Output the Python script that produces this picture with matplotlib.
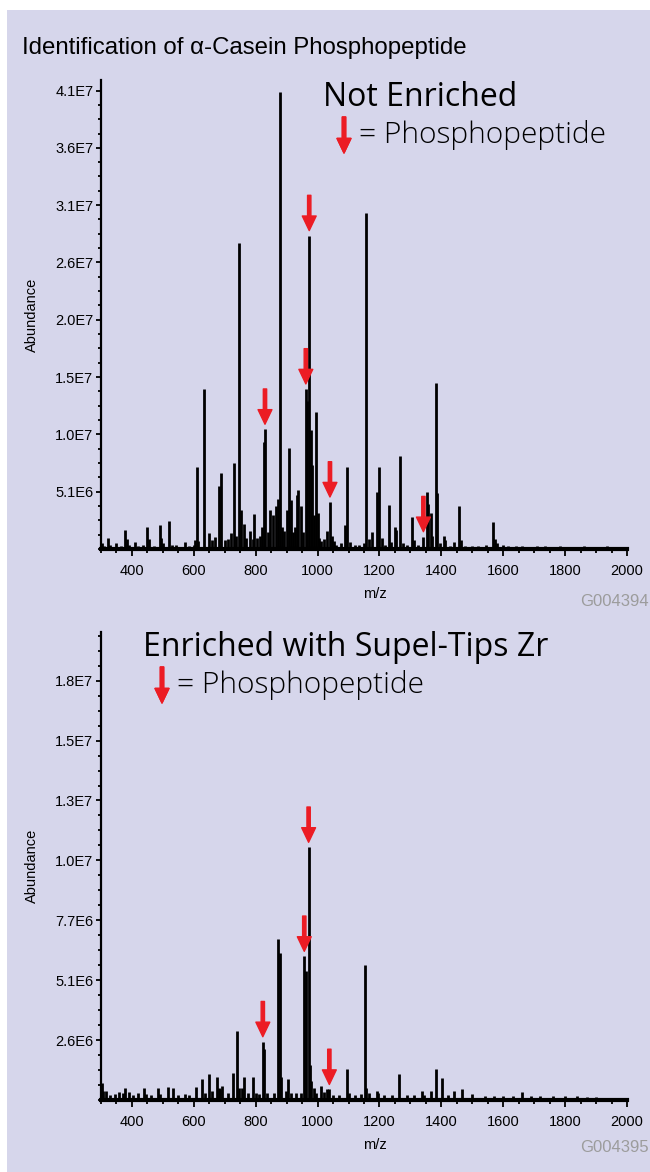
import numpy as np
import matplotlib
matplotlib.use('Agg')
import matplotlib.pyplot as plt
from matplotlib.patches import Rectangle
from matplotlib.ticker import MultipleLocator, FixedLocator, FuncFormatter

# ---- data ----
TITLE = "Identification of \u03b1-Casein Phosphopeptide"

# not enriched spectrum: m/z and abundance of the sticks
top_mz = [302, 310, 324, 330, 350, 365, 377, 384, 392, 410, 420, 436, 450, 455, 470, 490, 494, 500,
          521, 530, 543, 571, 585, 600, 605, 609, 615, 633, 649, 660, 670, 681, 687, 700, 710, 720,
          731, 735, 746, 751, 762, 770, 782, 790, 796, 805, 813, 820, 826, 830, 840, 847, 856, 865,
          873, 878, 885, 893, 900, 909, 914, 920, 926, 932, 937, 946, 952, 962, 967, 973, 978, 983,
          988, 994, 1000, 1006, 1012, 1020, 1029, 1040, 1045, 1052, 1060, 1075, 1089, 1096, 1105,
          1120, 1135, 1150, 1158, 1165, 1177, 1192, 1197, 1207, 1218, 1230, 1236, 1249, 1255, 1266,
          1275, 1290, 1305, 1310, 1325, 1342, 1352, 1358, 1365, 1370, 1383, 1387, 1395, 1408, 1413,
          1428, 1441, 1457, 1462, 1475, 1500, 1520, 1544, 1567, 1572, 1580, 1600, 1617, 1640, 1660,
          1685, 1710, 1735, 1760, 1785, 1810, 1835, 1860, 1885, 1910, 1935, 1960, 1985]
top_int = [0.5e6, 0.3e6, 1.0e6, 0.4e6, 0.5e6, 0.3e6, 1.7e6, 0.9e6, 0.4e6, 0.6e6, 0.3e6, 0.4e6, 2.0e6,
           0.9e6, 0.3e6, 2.1e6, 1.0e6, 0.5e6, 2.5e6, 0.4e6, 0.4e6, 0.6e6, 0.3e6, 0.4e6, 0.8e6, 7.3e6,
           0.7e6, 1.43e7, 1.46e6, 0.8e6, 1.1e6, 5.6e6, 6.8e6, 0.8e6, 0.9e6, 1.4e6, 7.65e6, 1.2e6,
           2.73e7, 3.5e6, 2.2e6, 1.0e6, 1.6e6, 0.9e6, 3.1e6, 1.0e6, 1.2e6, 2.0e6, 9.55e6, 1.07e7,
           1.5e6, 3.5e6, 3.0e6, 3.8e6, 4.5e6, 4.08e7, 2.0e6, 1.6e6, 3.5e6, 9.0e6, 4.4e6, 1.5e6, 2.0e6,
           4.8e6, 5.3e6, 3.8e6, 1.5e6, 1.43e7, 1.32e7, 2.8e7, 1.06e7, 7.5e6, 3.0e6, 1.22e7, 3.2e6,
           1.0e6, 0.7e6, 0.9e6, 1.6e6, 4.2e6, 1.2e6, 0.7e6, 0.4e6, 0.5e6, 2.1e6, 7.3e6, 0.6e6, 0.4e6,
           0.4e6, 0.5e6, 3.0e7, 0.9e6, 1.5e6, 5.1e6, 7.3e6, 1.0e6, 0.4e6, 3.9e6, 0.6e6, 2.0e6, 1.7e6,
           8.3e6, 0.5e6, 0.4e6, 2.9e6, 0.8e6, 0.4e6, 1.1e6, 5.1e6, 4.0e6, 3.2e6, 1.2e6, 1.48e7, 5.0e6,
           0.5e6, 1.2e6, 0.8e6, 0.3e6, 0.6e6, 3.8e6, 0.8e6, 0.3e6, 0.3e6, 0.3e6, 0.4e6, 2.4e6, 0.9e6,
           0.5e6, 0.4e6, 0.3e6, 0.25e6, 0.25e6, 0.2e6, 0.25e6, 0.3e6, 0.2e6, 0.25e6, 0.2e6, 0.2e6,
           0.25e6, 0.2e6, 0.2e6, 0.25e6, 0.2e6, 0.2e6]
top_arrows = [830, 962, 973, 1040, 1342]

# enriched with Supel-Tips Zr
bot_mz = [302, 306, 316, 330, 345, 359, 370, 378, 391, 405, 420, 439, 445, 460, 484, 490, 515, 532,
          550, 570, 585, 607, 626, 635, 649, 660, 674, 680, 686, 691, 710, 727, 741, 746, 755, 762,
          775, 790, 800, 810, 823, 826, 837, 860, 873, 878, 883, 897, 905, 915, 930, 948, 957, 963,
          971, 975, 980, 987, 995, 1011, 1020, 1030, 1038, 1050, 1070, 1094, 1100, 1120, 1140, 1153,
          1158, 1165, 1191, 1195, 1215, 1240, 1264, 1290, 1310, 1336, 1345, 1365, 1382, 1402, 1420,
          1440, 1467, 1500, 1540, 1570, 1600, 1630, 1660, 1690, 1720, 1760, 1800, 1840, 1870, 1900,
          1950, 1990]
bot_int = [0.72e6, 0.4e6, 0.4e6, 0.2e6, 0.25e6, 0.35e6, 0.3e6, 0.5e6, 0.35e6, 0.2e6, 0.3e6, 0.5e6,
           0.25e6, 0.2e6, 0.5e6, 0.25e6, 0.55e6, 0.5e6, 0.2e6, 0.25e6, 0.2e6, 0.55e6, 0.9e6, 0.3e6,
           1.1e6, 0.4e6, 1.0e6, 0.5e6, 0.45e6, 0.6e6, 0.3e6, 1.15e6, 2.94e6, 0.5e6, 0.5e6, 1.0e6,
           0.3e6, 1.0e6, 0.3e6, 0.25e6, 2.49e6, 2.2e6, 0.3e6, 0.3e6, 6.9e6, 6.3e6, 1.0e6, 0.4e6,
           0.9e6, 0.3e6, 0.3e6, 0.3e6, 6.14e6, 5.5e6, 1.08e7, 1.5e6, 0.8e6, 0.5e6, 0.3e6, 0.6e6,
           0.35e6, 0.45e6, 0.45e6, 0.2e6, 0.2e6, 1.32e6, 0.3e6, 0.2e6, 0.25e6, 5.76e6, 0.5e6, 0.3e6,
           0.4e6, 0.3e6, 0.2e6, 0.2e6, 1.1e6, 0.2e6, 0.2e6, 0.4e6, 0.2e6, 0.4e6, 1.32e6, 0.92e6,
           0.2e6, 0.4e6, 0.45e6, 0.25e6, 0.15e6, 0.15e6, 0.15e6, 0.15e6, 0.33e6, 0.15e6, 0.15e6,
           0.15e6, 0.15e6, 0.15e6, 0.12e6, 0.12e6, 0.1e6, 0.1e6]
bot_arrows = [823, 957, 971, 1038]

top_step = 5.12e6   # 5.1E6, 1.0E7, 1.5E7 ...
bot_step = 2.56e6   # 2.6E6, 5.1E6, 7.7E6 ...

BG = '#D6D6EB'
RED = '#EC1C24'
plt.rcParams['font.family'] = ['Liberation Sans', 'DejaVu Sans']

fig = plt.figure(figsize=(6.5, 11.72), dpi=100)
fig.patch.set_facecolor('white')
fig.add_artist(Rectangle((7 / 650, 0), 1, 1 - 10 / 1172, transform=fig.transFigure,
                         facecolor=BG, edgecolor='none', zorder=-10))

ARROW = 'simple,head_length=1.05,head_width=1.0,tail_width=0.24'


def efmt(v, pos):
    m, e = ("%.1E" % v).split('E')
    return "%sE%d" % (m, int(e))


def draw_panel(ax, mz, inten, arrows, step, ymax):
    ax.set_facecolor('none')
    ax.vlines(mz, 0, inten, colors='black', linewidth=2.0)
    ax.set_xlim(300, 2000)
    ax.set_ylim(0, ymax)
    for s in ['top', 'right']:
        ax.spines[s].set_visible(False)
    ax.spines['left'].set_linewidth(1.6)
    ax.spines['bottom'].set_linewidth(3.0)
    ax.xaxis.set_major_locator(FixedLocator(np.arange(400, 2001, 200)))
    ax.xaxis.set_minor_locator(MultipleLocator(50))
    ax.yaxis.set_major_locator(FixedLocator(np.arange(1, 9) * step))
    ax.yaxis.set_minor_locator(MultipleLocator(step / 4))
    ax.yaxis.set_major_formatter(FuncFormatter(efmt))
    ax.tick_params(axis='x', which='major', length=5, width=1.3, labelsize=10.5, pad=6)
    ax.tick_params(axis='x', which='minor', length=3, width=1.3)
    ax.tick_params(axis='y', which='major', length=3.5, width=1.3, labelsize=10.5, pad=2)
    ax.tick_params(axis='y', which='minor', length=2.2, width=1.3)
    ax.set_xlabel('m/z', fontsize=10.5)
    ax.xaxis.set_label_coords(0.52, -0.082)
    ax.set_ylabel('Abundance', fontsize=10.5)
    ax.yaxis.set_label_coords(-0.118, 0.5)
    lookup = dict(zip(mz, inten))
    for a in arrows:
        ax.annotate('', xy=(a, lookup[a]), xytext=(0, 29), textcoords='offset points',
                    arrowprops=dict(arrowstyle=ARROW, mutation_scale=10, color=RED,
                                    shrinkA=0, shrinkB=3.6))


ax1 = fig.add_axes([101 / 650, 1 - 549 / 1172, 526 / 650, 469 / 1172])
draw_panel(ax1, top_mz, top_int, top_arrows, top_step, 4.19e7)

ax2 = fig.add_axes([101 / 650, 1 - 1100 / 1172, 526 / 650, 468 / 1172])
draw_panel(ax2, bot_mz, bot_int, bot_arrows, bot_step, 2.0e7)

fig.text(649 / 650, 1 - 601 / 1172, 'G004394', fontsize=12, ha='right', va='center', color='#9C9C9C')
fig.text(649 / 650, 1 - 1148 / 1172, 'G004395', fontsize=12, ha='right', va='center', color='#9C9C9C')

fig.text(22 / 650, 1 - 48 / 1172, TITLE, fontsize=17.3, ha='left', va='center')

HFONT = ['Open Sans', 'Lato', 'DejaVu Sans']


def legend(x_title, y_title, title, x_arrow, y_leg):
    fig.text(x_title / 650, 1 - y_title / 1172, title, fontsize=23, ha='left', va='center',
             family=HFONT)
    fig.text((x_arrow + 15) / 650, 1 - y_leg / 1172, '= Phosphopeptide', fontsize=21.5,
             ha='left', va='center', family=HFONT, weight='light')
    fig.add_artist(plt.annotate('', xy=(x_arrow / 650, 1 - (y_leg + 18) / 1172),
                                xytext=(x_arrow / 650, 1 - (y_leg - 18) / 1172),
                                xycoords='figure fraction', textcoords='figure fraction',
                                arrowprops=dict(arrowstyle=ARROW, mutation_scale=10, color=RED,
                                                shrinkA=0, shrinkB=0)))


legend(323, 97, 'Not Enriched', 344, 135)
legend(143, 647, 'Enriched with Supel-Tips Zr', 162, 685)

fig.savefig('out.png', dpi=100, facecolor=fig.get_facecolor())
